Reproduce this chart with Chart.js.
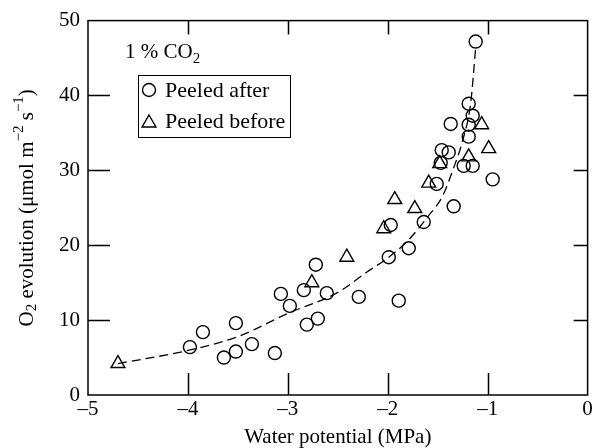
<!DOCTYPE html>
<html>
<head>
<meta charset="utf-8">
<script src="https://cdn.jsdelivr.net/npm/chart.js@4.4.0/dist/chart.umd.min.js"></script>
<style>
  html, body { margin: 0; padding: 0; background: #fff; }
</style>
</head>
<body>
<canvas id="chart" width="597" height="448"></canvas>
<script>
// === Data ===
const afterX = [-3.98, -3.85, -3.64, -3.52, -3.52, -3.36, -3.13, -3.07, -2.98, -2.84, -2.81, -2.72,
  -2.70, -2.61, -2.29, -1.89, -1.99, -1.79, -1.97, -1.64, -1.34, -1.51, -0.95, -1.47, -1.24,
  -1.15, -1.46, -1.39, -1.19, -1.37, -1.19, -1.15, -1.19, -1.12];
const afterY = [6.4, 8.4, 5.0, 5.8, 9.6, 6.8, 5.6, 13.5, 11.9, 14.0, 9.4, 17.4,
  10.2, 13.6, 13.1, 12.6, 18.4, 19.6, 22.7, 23.1, 25.2, 28.2, 28.8, 31.0, 30.6,
  30.6, 32.7, 32.4, 34.5, 36.2, 36.1, 37.3, 38.9, 47.2];
const beforeX = [-4.70, -2.76, -2.41, -2.04, -1.93, -1.73, -1.59, -1.48, -1.19, -0.99, -1.06];
const beforeY = [4.2, 15.0, 18.4, 22.2, 26.1, 24.9, 28.3, 30.9, 31.8, 32.9, 36.1];
// dashed fitted curve
const fitX = [-4.70, -4.00, -3.50, -3.00, -2.50, -2.20, -2.00, -1.80, -1.60, -1.45, -1.35, -1.25, -1.17, -1.12];
const fitY = [4.2, 5.95, 7.8, 10.9, 13.7, 16.5, 18.3, 20.6, 23.8, 26.6, 30.0, 34.0, 39.0, 46.4];
const xTicks = [-5, -4, -3, -2, -1, 0];
const yTicks = [0, 10, 20, 30, 40, 50];

const SERIF = "'Liberation Serif', 'DejaVu Serif', serif";
const pts = (xs, ys) => xs.map((x, i) => ({ x: x, y: ys[i] }));

// === Draw a line of text with sub/superscript runs ===
function drawRich(ctx, runs, x, y, size, align) {
  let w = 0;
  runs.forEach((r) => {
    ctx.font = (r.sub || r.sup ? Math.round(size * 0.7) : size) + "px " + SERIF;
    r.w = ctx.measureText(r.t).width;
    w += r.w;
  });
  let cx = align === "center" ? x - w / 2 : x;
  runs.forEach((r) => {
    ctx.font = (r.sub || r.sup ? Math.round(size * 0.7) : size) + "px " + SERIF;
    const dy = r.sub ? size * 0.25 : r.sup ? -size * 0.38 : 0;
    ctx.fillText(r.t, cx, y + dy);
    cx += r.w;
  });
}

// === Frame, inward ticks, titles and legend ===
const framePlugin = {
  id: "frame",
  afterDraw(chart) {
    const { ctx, chartArea: a, scales } = chart;
    ctx.save();
    ctx.strokeStyle = "#000";
    ctx.fillStyle = "#000";
    ctx.lineWidth = 1.5;
    ctx.strokeRect(a.left, a.top, a.right - a.left, a.bottom - a.top);

    // inward tick marks: long on bottom/left, short on top/right
    ctx.beginPath();
    xTicks.slice(1, -1).forEach((v) => {
      const px = Math.round(scales.x.getPixelForValue(v)) + 0.5;
      ctx.moveTo(px, a.bottom); ctx.lineTo(px, a.bottom - 22);
      ctx.moveTo(px, a.top); ctx.lineTo(px, a.top + 14);
    });
    yTicks.slice(1, -1).forEach((v) => {
      const py = Math.round(scales.y.getPixelForValue(v)) + 0.5;
      ctx.moveTo(a.left, py); ctx.lineTo(a.left + 22, py);
      ctx.moveTo(a.right, py); ctx.lineTo(a.right - 14, py);
    });
    ctx.stroke();

    // y-axis title
    ctx.textBaseline = "middle";
    ctx.save();
    ctx.translate(27, (a.top + a.bottom) / 2);
    ctx.rotate(-Math.PI / 2);
    drawRich(ctx, [
      { t: "O" }, { t: "2", sub: true }, { t: " evolution (\u03bcmol m" },
      { t: "\u22122", sup: true }, { t: " s" }, { t: "\u22121", sup: true }, { t: ")" }
    ], 0, 0, 21, "center");
    ctx.restore();

    // condition label
    ctx.textBaseline = "alphabetic";
    drawRich(ctx, [{ t: "1 % CO" }, { t: "2", sub: true }], 125, 58, 21, "left");

    // legend box
    ctx.lineWidth = 1;
    ctx.strokeRect(138.5, 75.5, 152, 62);
    ctx.lineWidth = 1.4;
    ctx.beginPath();
    ctx.arc(149, 90, 6.5, 0, Math.PI * 2);
    ctx.stroke();
    const r = 8, tx = 149, ty = 123;
    ctx.beginPath();
    ctx.moveTo(tx, ty - r);
    ctx.lineTo(tx + r * 0.866, ty + r / 2);
    ctx.lineTo(tx - r * 0.866, ty + r / 2);
    ctx.closePath();
    ctx.stroke();
    ctx.font = "22px " + SERIF;
    ctx.fillText("Peeled after", 165, 97);
    ctx.fillText("Peeled before", 165, 128);
    ctx.restore();
  },
};

const tickFont = { family: SERIF, size: 21 };

new Chart(document.getElementById("chart"), {
  type: "scatter",
  data: {
    datasets: [
      {
        type: "line",
        label: "Fit",
        data: pts(fitX, fitY),
        borderColor: "#000",
        borderWidth: 1.3,
        borderDash: [9, 5],
        pointRadius: 0,
        fill: false,
        cubicInterpolationMode: "monotone",
      },
      {
        label: "Peeled after",
        data: pts(afterX, afterY),
        pointStyle: "circle",
        pointRadius: 6.5,
        borderColor: "#000",
        borderWidth: 1.4,
        backgroundColor: "rgba(0,0,0,0)",
      },
      {
        label: "Peeled before",
        data: pts(beforeX, beforeY),
        pointStyle: "triangle",
        pointRadius: 8,
        borderColor: "#000",
        borderWidth: 1.4,
        backgroundColor: "rgba(0,0,0,0)",
      },
    ],
  },
  options: {
    responsive: false,
    animation: false,
    layout: { padding: { top: 20, right: 8, left: 0, bottom: 0 } },
    plugins: {
      legend: { display: false },
      tooltip: { enabled: false },
    },
    scales: {
      x: {
        type: "linear",
        min: -5,
        max: 0,
        grid: { display: false, drawTicks: false },
        border: { display: false },
        ticks: {
          stepSize: 1,
          color: "#000",
          font: tickFont,
          padding: 2,
          callback: (v) => (v < 0 ? "\u2013" + Math.abs(v) : String(v)),
        },
        title: {
          display: true,
          text: "Water potential (MPa)",
          color: "#000",
          font: { family: SERIF, size: 21, lineHeight: 1 },
          padding: { top: 0, bottom: 0 },
        },
        afterFit: (s) => { s.height = 53; },
      },
      y: {
        min: 0,
        max: 50,
        grid: { display: false, drawTicks: false },
        border: { display: false },
        ticks: { stepSize: 10, color: "#000", font: tickFont, padding: 8 },
        afterFit: (s) => { s.width = 88; },
      },
    },
  },
  plugins: [framePlugin],
});
</script>
</body>
</html>
